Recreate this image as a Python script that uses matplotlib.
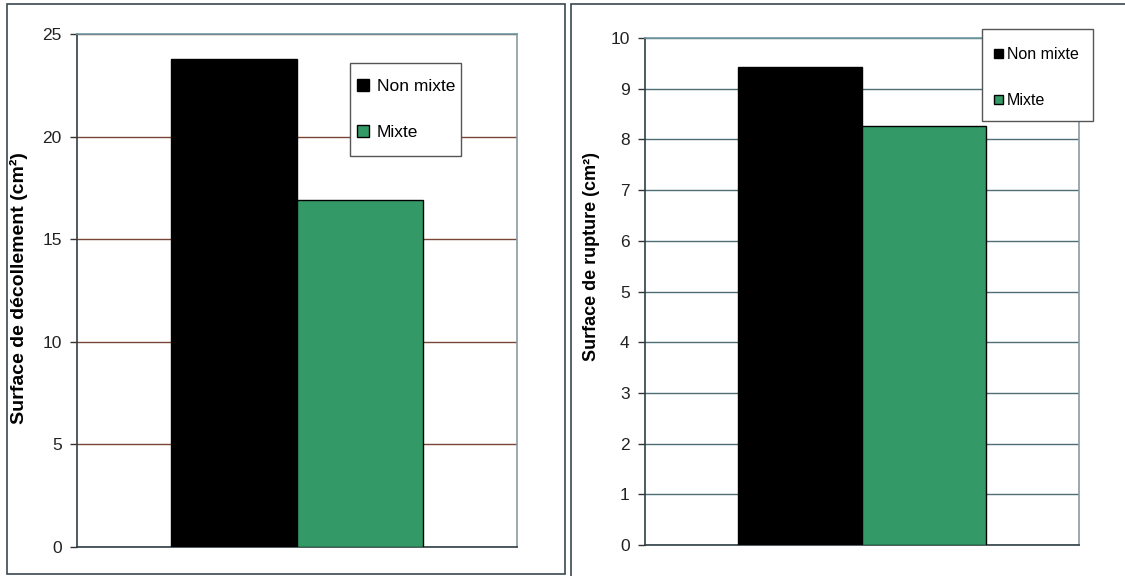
import matplotlib.pyplot as plt
from matplotlib.patches import Rectangle

plt.rcParams['font.family'] = ['Liberation Sans', 'DejaVu Sans']

series = ['Non mixte', 'Mixte']
colors = ['#000000', '#339966']
decollement = [23.8, 16.9]
rupture = [9.43, 8.27]

fig = plt.figure(figsize=(11.25, 5.76), dpi=100)

# panel frames (excel chart areas)
fig.patches.append(Rectangle((7 / 1125, 2 / 576), 558 / 1125, 570 / 576,
                             transform=fig.transFigure, fill=False,
                             edgecolor='#3a4a50', linewidth=1.2))
fig.patches.append(Rectangle((571 / 1125, -10 / 576), 600 / 1125, 582 / 576,
                             transform=fig.transFigure, fill=False,
                             edgecolor='#3a4a50', linewidth=1.2))


def draw_panel(rect, values, ymax, ystep, ylabel, lab_size, lab_xy, grid_color,
               box, leg_anchor, leg_size, hlen, hpad, lspace):
    ax = fig.add_axes(rect)
    width = 1 / 1.75 / len(values)
    for i, v in enumerate(values):
        x = -1 / 1.75 / 2 + width * (i + 0.5)
        ax.bar(x, v, width=width, color=colors[i], edgecolor='black',
               linewidth=1, label=series[i], zorder=3)
    ax.set_xlim(-0.5, 0.5)
    ax.set_ylim(0, ymax)
    ax.set_yticks(range(0, ymax + 1, ystep))
    ax.set_xticks([])
    ax.yaxis.grid(True, color=grid_color, linewidth=1)
    ax.set_axisbelow(True)
    ax.tick_params(axis='y', length=5, width=1, color='#333333',
                   labelsize=12.5, labelcolor='#222222', pad=6)
    ax.spines['left'].set_color('#2f3f45')
    ax.spines['bottom'].set_color('#2f3f45')
    ax.spines['top'].set_color('#6f9aa3')
    ax.spines['right'].set_color('#8a9aa0')
    for s in ax.spines.values():
        s.set_linewidth(1.2)
    ax.set_ylabel(ylabel, fontsize=lab_size, fontweight='bold')
    ax.yaxis.set_label_coords(*lab_xy)
    # legend box drawn by hand, excel pads it unevenly
    ax.add_patch(Rectangle(box[:2], box[2], box[3], transform=ax.transAxes,
                           facecolor='white', edgecolor='#555555',
                           linewidth=1, zorder=4.5, clip_on=False))
    ax.legend(loc='upper left', bbox_to_anchor=leg_anchor, fontsize=leg_size,
              frameon=False, labelspacing=lspace, handlelength=hlen,
              handleheight=hlen, handletextpad=hpad, borderpad=0,
              borderaxespad=0)
    return ax


draw_panel([77 / 1125, 29 / 576, 440 / 1125, 513 / 576], decollement, 25, 5,
           'Surface de décollement (cm²)', 14, (-0.111, 0.505), '#7a4535',
           (0.6205, 0.762, 0.252, 0.181), (0.636, 0.912), 12.5, 0.7, 0.45, 1.75)
draw_panel([645 / 1125, 31 / 576, 434 / 1125, 507 / 576], rupture, 10, 1,
           'Surface de rupture (cm²)', 13, (-0.104, 0.57), '#4d6e74',
           (0.7765, 0.836, 0.2558, 0.1815), (0.804, 0.982), 11.5, 0.56, 0.25, 1.95)

fig.savefig('out.png', dpi=100)
